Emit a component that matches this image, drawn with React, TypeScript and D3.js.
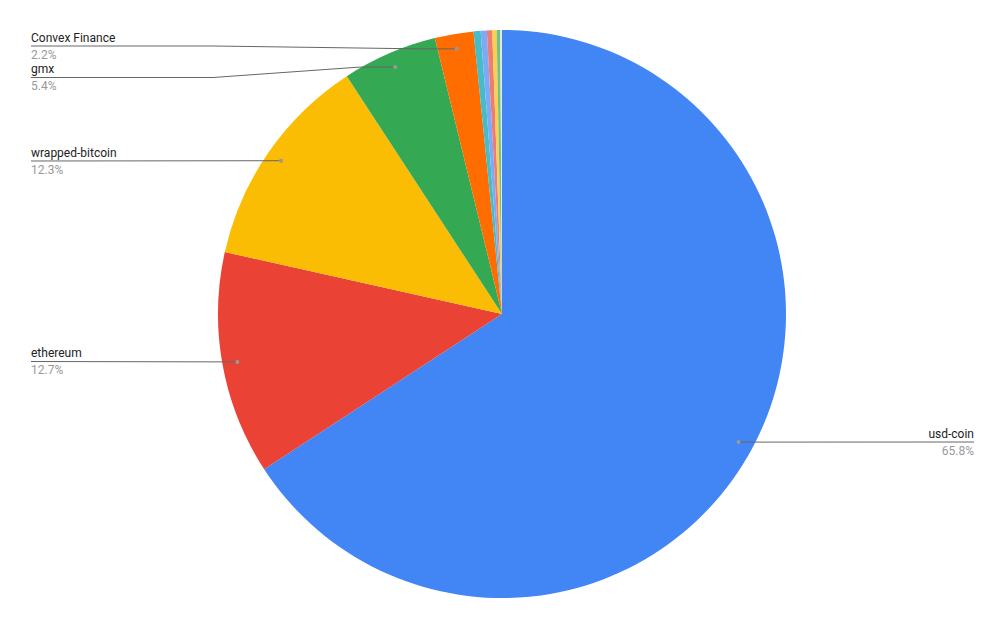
import React, { useEffect, useRef } from 'react'
import * as d3 from 'd3'

// slice data, clockwise from 12 o'clock
const names = [
  'usd-coin',
  'ethereum',
  'wrapped-bitcoin',
  'gmx',
  'Convex Finance',
  'other-1',
  'other-2',
  'other-3',
  'other-4',
  'other-5',
  'other-6',
]
const shares = [65.8, 12.7, 12.3, 5.4, 2.2, 0.4, 0.35, 0.3, 0.25, 0.2, 0.1]
const colors = [
  '#4285f4',
  '#ea4335',
  '#fbbc04',
  '#34a853',
  '#ff6d01',
  '#46bdc6',
  '#7baaf7',
  '#f07b72',
  '#fcd04f',
  '#71c287',
  '#e4e8d8',
]
const labelled = ['usd-coin', 'ethereum', 'wrapped-bitcoin', 'gmx', 'Convex Finance']

const W = 1005
const H = 629

const App = () => {
  const svgRef = useRef<SVGSVGElement>(null)

  useEffect(() => {
    document.body.style.margin = '0'
    const svg = d3.select(svgRef.current)
    svg.selectAll('*').remove()

    const cx = 502
    const cy = 314
    const r = 284
    const dotR = 269

    const data = names.map((n, i) => ({ name: n, value: shares[i], color: colors[i] }))

    const pie = d3
      .pie<{ name: string; value: number; color: string }>()
      .sort(null)
      .value(d => d.value)
    const arcs = pie(data)
    const arc = d3.arc<d3.PieArcDatum<any>>().innerRadius(0).outerRadius(r)

    const g = svg.append('g').attr('transform', `translate(${cx},${cy})`)
    g.selectAll('path')
      .data(arcs)
      .enter()
      .append('path')
      .attr('d', arc as any)
      .attr('fill', d => d.data.color)

    // label layout: line y for each labelled slice
    const lineY: Record<string, number> = {
      'usd-coin': 442,
      ethereum: 361.5,
      'wrapped-bitcoin': 161,
      gmx: 77.5,
      'Convex Finance': 46,
    }
    const leftX = 31
    const rightX = 974
    const kneeX = 213

    arcs
      .filter(a => labelled.includes(a.data.name))
      .forEach(a => {
        const mid = (a.startAngle + a.endAngle) / 2
        const dx = cx + dotR * Math.sin(mid)
        const dy = cy - dotR * Math.cos(mid)
        const ly = lineY[a.data.name]
        const right = dx > cx
        let pts: [number, number][]
        if (right) {
          pts = [
            [dx, dy],
            [rightX, ly],
          ]
        } else if (Math.abs(ly - dy) > 1) {
          pts = [
            [leftX, ly],
            [kneeX, ly],
            [dx - 36, dy],
            [dx, dy],
          ]
        } else {
          pts = [
            [leftX, ly],
            [dx, dy],
          ]
        }
        svg
          .append('path')
          .attr('d', d3.line()(pts))
          .attr('fill', 'none')
          .attr('stroke', '#666')
          .attr('stroke-width', 1)
        svg
          .append('circle')
          .attr('cx', dx)
          .attr('cy', dy)
          .attr('r', 2)
          .attr('fill', '#999')

        const tx = right ? rightX : leftX
        const anchor = right ? 'end' : 'start'
        svg
          .append('text')
          .attr('x', tx)
          .attr('y', ly - 4.5)
          .attr('text-anchor', anchor)
          .attr('font-family', 'Roboto, Arial, sans-serif')
          .attr('font-size', 12)
          .attr('fill', '#222')
          .text(a.data.name)
        svg
          .append('text')
          .attr('x', tx)
          .attr('y', ly + 12.5)
          .attr('text-anchor', anchor)
          .attr('font-family', 'Roboto, Arial, sans-serif')
          .attr('font-size', 12)
          .attr('fill', '#999')
          .text(`${a.data.value.toFixed(1)}%`)
      })
  }, [])

  return (
    <svg
      ref={svgRef}
      width={W}
      height={H}
      style={{ display: 'block', background: '#fff' }}
    />
  )
}

export default App
